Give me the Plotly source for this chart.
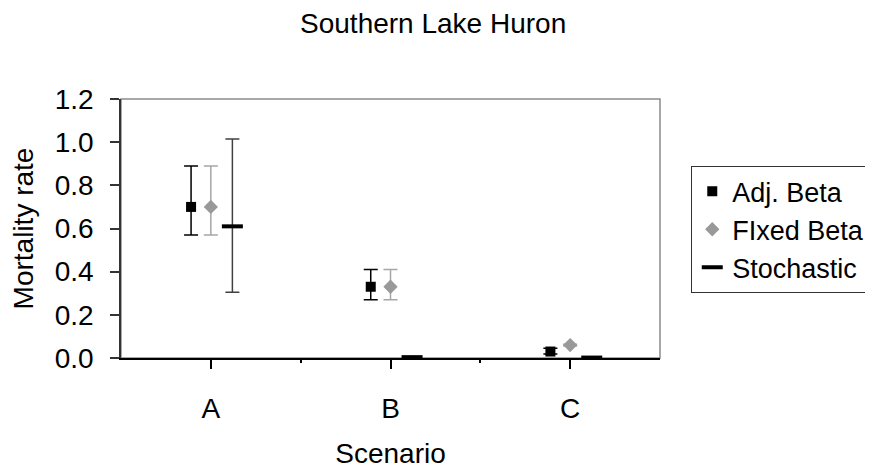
import plotly.graph_objects as go

# Southern Lake Huron - mortality rate by scenario
scenarios = ['A', 'B', 'C']

adj_beta = [0.70, 0.33, 0.03]
adj_beta_hi = [0.89, 0.41, 0.045]
adj_beta_lo = [0.57, 0.27, 0.018]

fixed_beta = [0.70, 0.33, 0.06]
fixed_beta_hi = [0.89, 0.41, 0.064]
fixed_beta_lo = [0.57, 0.27, 0.056]

stochastic = [0.61, 0.004, 0.002]
stochastic_hi = [1.015, 0.004, 0.002]
stochastic_lo = [0.305, 0.004, 0.002]

y_ticks = [0.0, 0.2, 0.4, 0.6, 0.8, 1.0, 1.2]

FONT = 'Liberation Sans, Arial, sans-serif'
cat_pos = list(range(len(scenarios)))


def errs(vals, hi, lo):
    return [h - v for v, h in zip(vals, hi)], [v - l for v, l in zip(vals, lo)]


series = [
    # name, values, hi, lo, offset, marker, error colour
    ('Adj. Beta', adj_beta, adj_beta_hi, adj_beta_lo, -0.11,
     dict(symbol='square', size=10, color='black'), 'black'),
    ('FIxed Beta', fixed_beta, fixed_beta_hi, fixed_beta_lo, 0.0,
     dict(symbol='diamond', size=11, color='#999999'), '#a6a6a6'),
    ('Stochastic', stochastic, stochastic_hi, stochastic_lo, 0.12,
     dict(symbol='line-ew', size=15, color='black', line=dict(width=4, color='black')), '#404040'),
]

fig = go.Figure()
for name, vals, hi, lo, off, marker, ecol in series:
    up, down = errs(vals, hi, lo)
    fig.add_trace(go.Scatter(
        x=[p + off for p in cat_pos],
        y=vals,
        mode='markers',
        name=name,
        marker=marker,
        error_y=dict(type='data', symmetric=False, array=up, arrayminus=down,
                     color=ecol, thickness=1.5, width=7),
    ))

# the page puts the figure 8px in from the top-left corner, margins allow for that
fig.update_layout(
    width=873, height=472,
    margin=dict(l=113, r=221, t=91, b=122, autoexpand=False),
    paper_bgcolor='white', plot_bgcolor='white',
    font=dict(family=FONT, size=28, color='black'),
    title=dict(text='Southern Lake Huron', x=0.487, xanchor='center',
               y=1 - 15 / 472, yanchor='middle', yref='container',
               font=dict(size=28)),
    legend=dict(x=1.058, y=0.741, xanchor='left', yanchor='top',
                bordercolor='#333333', borderwidth=1, bgcolor='white',
                font=dict(size=27), itemsizing='trace', tracegroupgap=0),
    shapes=[dict(type='rect', xref='paper', yref='paper', x0=0, x1=1, y0=0, y1=1,
                 line=dict(color='#8c8c8c', width=1.5), layer='below')],
)

fig.update_xaxes(
    range=[-0.5, 2.5], tickvals=cat_pos, ticktext=scenarios,
    showgrid=False, zeroline=False, automargin=False,
    showline=True, linecolor='black', linewidth=1.5,
    ticks='outside', ticklen=9, tickcolor='black', tickwidth=1.5,
    ticklabelstandoff=16,
    minor=dict(tickvals=[0.5, 1.5], ticks='outside', ticklen=3, tickcolor='black'),
    title=dict(text='Scenario', standoff=20, font=dict(size=28)),
)
fig.update_yaxes(
    range=[0, 1.2], tickvals=y_ticks, tickformat='.1f',
    showgrid=False, zeroline=False, automargin=False,
    showline=True, linecolor='#333333', linewidth=1.5,
    ticks='outside', ticklen=9, tickcolor='#333333', tickwidth=1.5,
    ticklabelstandoff=11,
    title=dict(text='Mortality rate', standoff=13, font=dict(size=28)),
)

fig.write_html('out.html')
